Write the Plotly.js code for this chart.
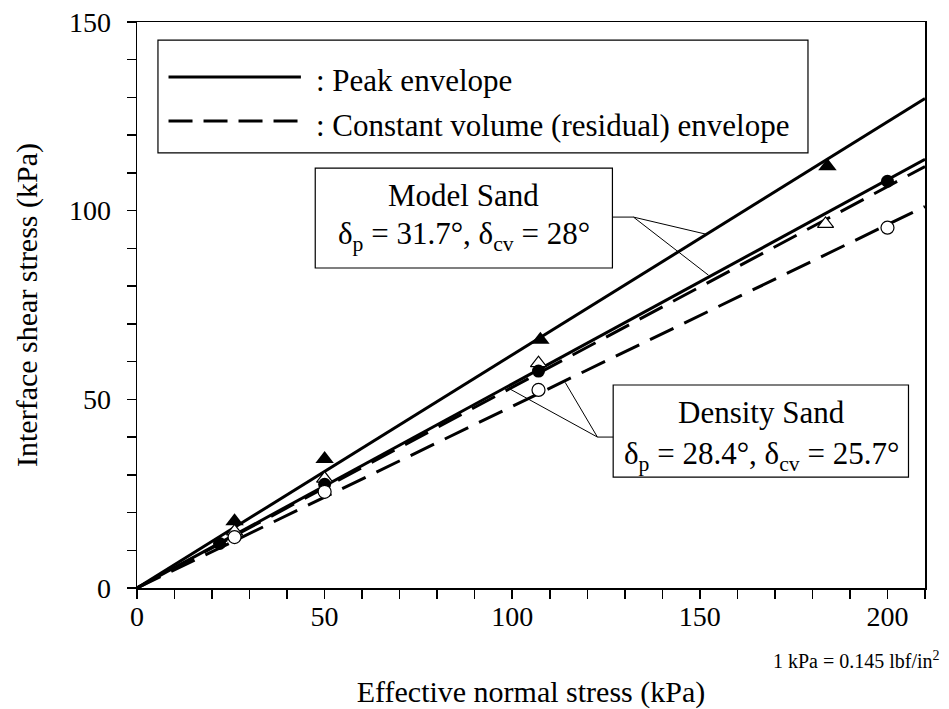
<!DOCTYPE html>
<html>
<head>
<meta charset="utf-8">
<script src="https://cdn.plot.ly/plotly-3.0.1.min.js"></script>
<style>html,body{margin:0;padding:0;background:#fff;}#chart{width:949px;height:709px;}</style>
</head>
<body>
<div id="chart"></div>
<script>
// Envelope lines
const envX = [0, 210];
const modelPeakY = [0, 129.7];
const modelCvY = [0, 111.7];
const densityPeakY = [0, 113.6];
const densityCvY = [0, 101.1];

// Test points
const modelPeakPtsX = [26, 50, 107.5, 184];
const modelPeakPtsY = [17.7, 34.2, 65.8, 111.8];
const modelCvPtsX = [26, 50, 107, 183.5];
const modelCvPtsY = [15, 29, 59.6, 96.5];
const densityPeakPtsX = [22, 50, 107, 200];
const densityPeakPtsY = [11.8, 27.5, 57.5, 107.8];
const densityCvPtsX = [26, 50, 107, 200];
const densityCvPtsY = [13.5, 25.5, 52.5, 95.5];

const xTicks = [0, 50, 100, 150, 200];
const yTicks = [0, 50, 100, 150];

const FONT = 'Liberation Serif';
const dashPat = '26px,12px';

const traces = [
  {x: envX, y: modelPeakY, mode: 'lines', line: {color: 'black', width: 3}},
  {x: envX, y: modelCvY, mode: 'lines', line: {color: 'black', width: 3, dash: dashPat}},
  {x: envX, y: densityPeakY, mode: 'lines', line: {color: 'black', width: 3}},
  {x: envX, y: densityCvY, mode: 'lines', line: {color: 'black', width: 3, dash: dashPat}},
  {x: modelPeakPtsX, y: modelPeakPtsY, mode: 'markers', marker: {symbol: 'triangle-up', size: 16, color: 'black'}},
  {x: modelCvPtsX, y: modelCvPtsY, mode: 'markers', marker: {symbol: 'triangle-up', size: 14, color: 'white', line: {color: 'black', width: 1.2}}},
  {x: densityPeakPtsX, y: densityPeakPtsY, mode: 'markers', marker: {symbol: 'circle', size: 13, color: 'black'}},
  {x: densityCvPtsX, y: densityCvPtsY, mode: 'markers', marker: {symbol: 'circle', size: 13, color: 'white', line: {color: 'black', width: 1.2}}}
];

const lineShape = (x0, y0, x1, y1) => ({type: 'line', xref: 'x', yref: 'y', x0, y0, x1, y1, line: {color: 'black', width: 1}});

const shapes = [
  // legend box (paper)
  {type: 'rect', xref: 'paper', yref: 'paper', x0: 0.0266, x1: 0.8515, y0: 0.7686, y1: 0.968, line: {color: 'black', width: 1.2}, fillcolor: 'white'},
  {type: 'line', xref: 'paper', yref: 'paper', x0: 0.040, x1: 0.208, y0: 0.9028, y1: 0.9028, line: {color: 'black', width: 3}},
  {type: 'line', xref: 'paper', yref: 'paper', x0: 0.040, x1: 0.208, y0: 0.825, y1: 0.825, line: {color: 'black', width: 3, dash: '24px,11px'}},
  // Model Sand box
  {type: 'rect', xref: 'x', yref: 'y', x0: 47.5, x1: 126.7, y0: 84.8, y1: 111.3, line: {color: 'black', width: 1.2}, fillcolor: 'white'},
  lineShape(126.7, 98.3, 132.3, 98.3),
  lineShape(132.3, 98.3, 151.5, 93.8),
  lineShape(132.3, 98.3, 152.3, 82.9),
  // Density Sand box
  {type: 'rect', xref: 'x', yref: 'y', x0: 126.9, x1: 205.6, y0: 29.4, y1: 53.8, line: {color: 'black', width: 1.2}, fillcolor: 'white'},
  lineShape(126.9, 40.0, 122.7, 40.0),
  lineShape(122.7, 40.0, 98.9, 53.0),
  lineShape(122.7, 40.0, 114.1, 54.5)
];

const txt = (size) => ({family: FONT, size: size, color: 'black'});

const annotations = [
  {xref: 'paper', yref: 'paper', x: 0.2246, y: 0.8975, xanchor: 'left', yanchor: 'middle', showarrow: false, text: ': Peak envelope', font: txt(31)},
  {xref: 'paper', yref: 'paper', x: 0.2246, y: 0.818, xanchor: 'left', yanchor: 'middle', showarrow: false, text: ': Constant volume (residual) envelope', font: txt(31)},
  {xref: 'x', yref: 'y', x: 87.1, y: 104.1, showarrow: false, text: 'Model Sand', font: txt(31)},
  {xref: 'x', yref: 'y', x: 87.1, y: 93.3, showarrow: false, text: 'δ<sub>p</sub> = 31.7°, δ<sub>cv</sub> = 28°', font: txt(31)},
  {xref: 'x', yref: 'y', x: 166.3, y: 46.6, showarrow: false, text: 'Density Sand', font: txt(31)},
  {xref: 'x', yref: 'y', x: 166.3, y: 35.0, showarrow: false, text: 'δ<sub>p</sub> = 28.4°, δ<sub>cv</sub> = 25.7°', font: txt(31)},
  {xref: 'paper', yref: 'paper', x: 1.022, y: -0.127, xanchor: 'right', yanchor: 'middle', showarrow: false, text: '1 kPa = 0.145 lbf/in<sup>2</sup>', font: txt(20)}
];

const axisCommon = {
  showline: true, linecolor: 'black', linewidth: 1.5, mirror: true,
  showgrid: false, zeroline: false,
  ticks: 'outside', ticklen: 9, tickwidth: 1.5, tickcolor: 'black',
  tickfont: txt(28),
  minor: {dtick: 10, ticks: 'outside', ticklen: 9, tickwidth: 1.5, tickcolor: 'black', showgrid: false}
};

const layout = {
  width: 949, height: 709,
  margin: {l: 137, r: 24, t: 22, b: 121},
  paper_bgcolor: 'white', plot_bgcolor: 'white',
  showlegend: false,
  font: {family: FONT, color: 'black'},
  xaxis: Object.assign({}, axisCommon, {
    range: [0, 210], tickmode: 'array', tickvals: xTicks, ticktext: xTicks.map(String),
    ticklabelstandoff: -6,
    title: {text: 'Effective normal stress (kPa)', font: txt(30), standoff: 50}
  }),
  yaxis: Object.assign({}, axisCommon, {
    range: [0, 150], tickmode: 'array', tickvals: yTicks, ticktext: yTicks.map(String),
    ticklabelstandoff: 10,
    title: {text: 'Interface shear stress (kPa)', font: txt(30), standoff: 22}
  }),
  shapes: shapes,
  annotations: annotations
};

Plotly.newPlot('chart', traces, layout, {displayModeBar: false, staticPlot: true});
</script>
</body>
</html>
